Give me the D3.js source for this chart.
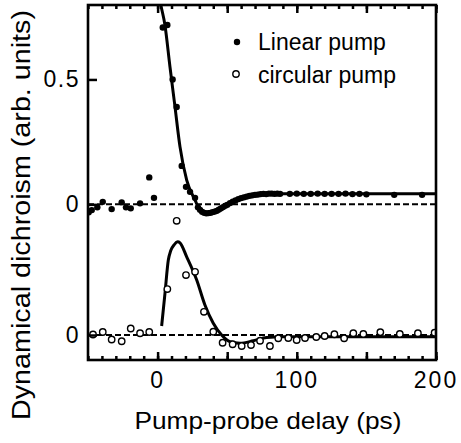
<!DOCTYPE html>
<html lang="en">
<head>
<meta charset="UTF-8">
<title>Dynamical dichroism</title>
<script src="https://d3js.org/d3.v7.min.js"></script>
<style>
  body { margin: 0; background: #fff; }
  text { font-family: "Liberation Sans", Arial, Helvetica, sans-serif; fill: #000; }
</style>
</head>
<body>
<svg width="461" height="443"></svg>
<script>
// ---- data ----
// linear pump (filled dots), delay in ps, signal in arb. units
var linT = [-49.5, -47.3, -43.3, -39.4, -33, -25.8, -22.7, -19.3, -12.6, -6, -2.6,
            3.7, 7, 10.8, 13.7, 17.3, 20.4, 23.3, 26.9,
            29, 30.5, 32, 33.5, 35, 36.5, 38, 39.5, 41, 42.5, 44, 45.5, 47, 48.5, 50,
            52, 54, 56, 58, 60, 62, 64, 66, 68, 70, 72, 74, 76, 78, 80, 82, 84, 86, 88,
            95, 100, 105, 110, 115, 120, 125, 130, 135, 140, 145, 150, 170, 190];
var linV = [-0.032, -0.023, -0.012, 0.01, -0.019, 0.008, -0.012, -0.016, 0.004, 0.108, 0.026,
            0.708, 0.718, 0.50, 0.39, 0.154, 0.07, 0.05, 0.026,
            -0.012, -0.022, -0.03, -0.034, -0.036, -0.035, -0.034, -0.031, -0.029, -0.026, -0.021, -0.016, -0.011, -0.006, -0.002,
            0.005, 0.011, 0.016, 0.021, 0.025, 0.028, 0.031, 0.034, 0.036, 0.038, 0.039, 0.041, 0.042, 0.041, 0.043, 0.043, 0.042, 0.043, 0.042,
            0.042, 0.043, 0.042, 0.042, 0.043, 0.042, 0.042, 0.042, 0.043, 0.041, 0.042, 0.04, 0.038, 0.038];

// circular pump (open circles)
var circT = [-46.4, -39.4, -33, -25.8, -19.3, -12.6, -6,
             7, 13.7, 20.4, 26.9, 33.3, 40, 46.7, 53.9, 60.4, 67.1, 73.6, 80.7,
             86.7, 93.9, 99.9, 105.9, 114, 120, 127, 134, 140.6, 147.8, 160, 174, 187, 199];
var circV = [0.002, 0.012, -0.018, -0.025, 0.026, 0.007, 0.012,
             0.184, 0.457, 0.24, 0.253, 0.093, 0.013, -0.031, -0.037, -0.044, -0.04, -0.023, -0.044,
             -0.013, -0.012, -0.02, -0.012, -0.008, -0.004, 0.003, -0.013, 0.007, 0.004, 0.011, 0.004, 0.007, 0.009];

// fitted curves
var linFitT = [0.8, 1.7, 5.3, 8.9, 12.5, 16.1, 20.9, 26.9, 30.5, 35.3, 42.5, 49.6, 59.2, 68.8, 80.7, 100, 200];
var linFitV = [0.85, 0.817, 0.717, 0.55, 0.39, 0.23, 0.097, 0.017, -0.023, -0.036, -0.03, -0.003, 0.024, 0.037, 0.042, 0.042, 0.042];
var circFitT = [2.9, 5.3, 7.7, 9.4, 12, 14.4, 16.1, 20.9, 28.1, 34, 40, 46, 52, 59.2, 68.8, 78.4, 90, 200];
var circFitV = [0.036, 0.167, 0.30, 0.337, 0.362, 0.373, 0.369, 0.313, 0.22, 0.12, 0.047, 0, -0.027, -0.033, -0.023, -0.01, -0.007, -0.007];

// the circular-pump trace is shifted down by this amount
var lowerOffset = -0.523;

var xMajor = [0, 50, 100, 150, 200];
var xLabels = [0, 100, 200];
var xMinor = d3.range(-50, 201, 10);
var yTicks = [0.5, 0];

// ---- layout ----
var margin = {top: 5, right: 25, bottom: 83, left: 88},
    width = 461 - margin.left - margin.right,
    height = 443 - margin.top - margin.bottom;

var svg = d3.select("svg");
var g = svg.append("g").attr("transform", "translate(" + margin.left + "," + margin.top + ")");

var x = d3.scaleLinear().domain([-50, 200]).range([0, width]);
var y = d3.scaleLinear().domain([-0.623, 0.798]).range([height, 0]);

g.append("clipPath").attr("id", "clip")
  .append("rect").attr("width", width).attr("height", height);

var plot = g.append("g").attr("clip-path", "url(#clip)");

// dashed zero lines
[0, lowerOffset].forEach(function(z) {
  plot.append("line")
    .attr("x1", 0).attr("x2", width)
    .attr("y1", y(z)).attr("y2", y(z))
    .attr("stroke", "#000").attr("stroke-width", 2)
    .attr("stroke-dasharray", "6,3");
});

var line = d3.line().curve(d3.curveMonotoneX);

plot.append("path")
  .attr("d", line(linFitT.map(function(t, i) { return [x(t), y(linFitV[i])]; })))
  .attr("fill", "none").attr("stroke", "#000").attr("stroke-width", 3);

plot.append("path")
  .attr("d", line(circFitT.map(function(t, i) { return [x(t), y(circFitV[i] + lowerOffset)]; })))
  .attr("fill", "none").attr("stroke", "#000").attr("stroke-width", 3);

// markers
plot.selectAll(".lin").data(linT).enter().append("circle")
  .attr("class", "lin")
  .attr("cx", function(d) { return x(d); })
  .attr("cy", function(d, i) { return y(linV[i]); })
  .attr("r", 3.2).attr("fill", "#000");

plot.selectAll(".circ").data(circT).enter().append("circle")
  .attr("class", "circ")
  .attr("cx", function(d) { return x(d); })
  .attr("cy", function(d, i) { return y(circV[i] + lowerOffset); })
  .attr("r", 3.2).attr("fill", "#fff").attr("stroke", "#000").attr("stroke-width", 1.4);

// axes: ticks point inward
function strip(sel) { sel.select(".domain").remove(); }

g.append("g").attr("transform", "translate(0," + height + ")")
  .call(d3.axisBottom(x).tickValues(xMinor).tickSize(-4).tickFormat(""))
  .call(strip);
g.append("g").attr("transform", "translate(0," + height + ")")
  .call(d3.axisBottom(x).tickValues(xMajor).tickSize(-8).tickFormat(""))
  .call(strip);
g.append("g")
  .call(d3.axisTop(x).tickValues(xMinor).tickSize(-4).tickFormat(""))
  .call(strip);
g.append("g")
  .call(d3.axisTop(x).tickValues(xMajor).tickSize(-8).tickFormat(""))
  .call(strip);
g.append("g")
  .call(d3.axisLeft(y).tickValues(yTicks.concat([lowerOffset])).tickSize(-9).tickFormat(""))
  .call(strip);
g.selectAll(".tick line").attr("stroke-width", 2.5);

// tick labels
g.selectAll(".xlab").data(xLabels).enter().append("text")
  .attr("class", "xlab")
  .attr("x", function(d) { return x(d); })
  .attr("y", height + 28)
  .attr("text-anchor", "middle")
  .attr("font-size", 23).attr("letter-spacing", 2)
  .text(function(d) { return d; });

var yLab = [{v: 0.5, t: "0.5"}, {v: 0, t: "0"}, {v: lowerOffset, t: "0"}];
g.selectAll(".ylab").data(yLab).enter().append("text")
  .attr("class", "ylab")
  .attr("x", -8)
  .attr("y", function(d) { return y(d.v) + 8; })
  .attr("text-anchor", "end")
  .attr("font-size", 23).attr("letter-spacing", 1.5)
  .text(function(d) { return d.t; });

// frame
g.append("rect").attr("width", width).attr("height", height)
  .attr("fill", "none").attr("stroke", "#000").attr("stroke-width", 2.6);

// axis titles
svg.append("text")
  .attr("x", 268).attr("y", 429)
  .attr("text-anchor", "middle").attr("font-size", 24)
  .attr("textLength", 267).attr("lengthAdjust", "spacingAndGlyphs")
  .text("Pump-probe delay (ps)");

svg.append("text")
  .attr("transform", "translate(30,215) rotate(-90)")
  .attr("text-anchor", "middle").attr("font-size", 25)
  .attr("textLength", 410).attr("lengthAdjust", "spacingAndGlyphs")
  .text("Dynamical dichroism (arb. units)");

// legend
var legend = svg.append("g");
legend.append("circle").attr("cx", 237).attr("cy", 42).attr("r", 3.2).attr("fill", "#000");
legend.append("circle").attr("cx", 236).attr("cy", 74).attr("r", 3.2)
  .attr("fill", "#fff").attr("stroke", "#000").attr("stroke-width", 1.4);
legend.append("text").attr("x", 258).attr("y", 50).attr("font-size", 23).text("Linear pump");
legend.append("text").attr("x", 258).attr("y", 83).attr("font-size", 23).text("circular pump");
</script>
</body>
</html>
